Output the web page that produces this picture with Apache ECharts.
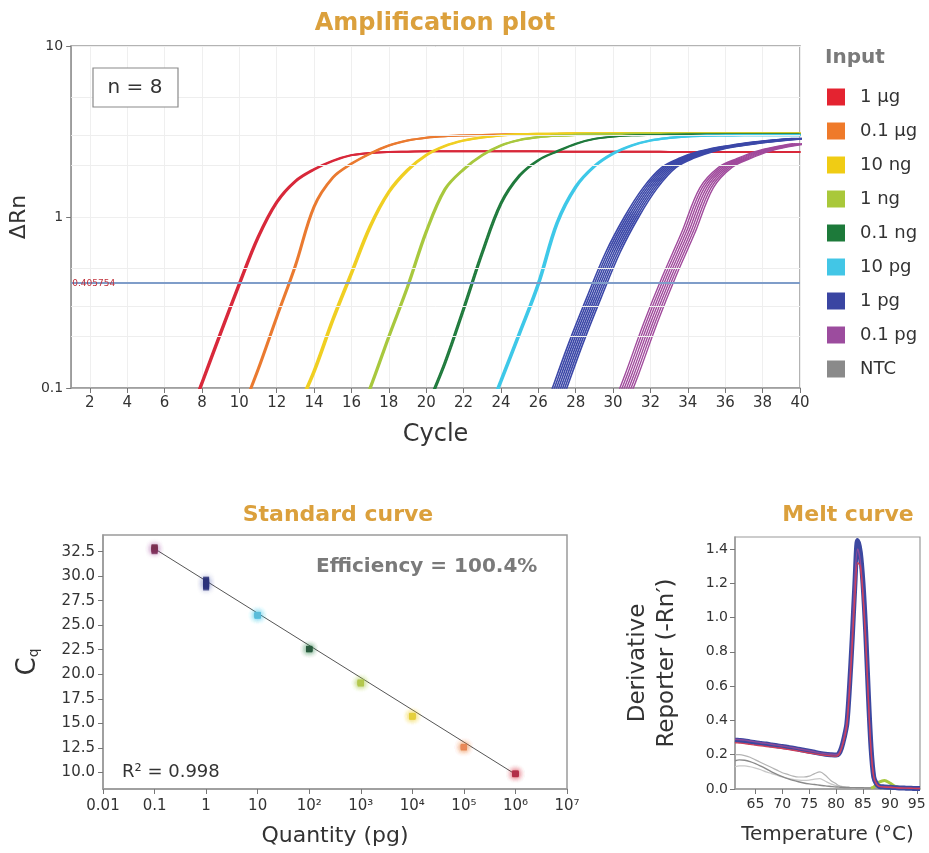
<!DOCTYPE html>
<html><head><meta charset="utf-8">
<script src="https://cdn.jsdelivr.net/npm/echarts@6/dist/echarts.min.js"></script>
<style>html,body{margin:0;padding:0;background:#fff}#c{width:929px;height:853px}</style>
</head><body><div id="c"></div>
<script>
// ================= DATA =================
// Amplification plot: cycle numbers and ΔRn per input group (null = below plotted range)
const cycles = [1,2,3,4,5,6,7,8,9,10,11,12,13,14,15,16,17,18,19,20,21,22,23,24,25,26,27,28,29,30,31,32,33,34,35,36,37,38,39,40];
const amp1ug   = [null,null,null,null,null,0.028,0.055,0.107,0.21,0.406,0.76,1.22,1.62,1.9,2.13,2.3,2.37,2.4,2.41,2.42,2.42,2.42,2.42,2.42,2.42,2.42,2.41,2.41,2.41,2.41,2.41,2.41,2.4,2.4,2.4,2.4,2.4,2.4,2.4,2.4];
const amp01ug  = [null,null,null,null,null,null,null,null,0.034,0.067,0.128,0.26,0.52,1.15,1.7,2.05,2.35,2.62,2.8,2.91,2.97,3.0,3.02,3.04,3.05,3.06,3.06,3.07,3.07,3.07,3.08,3.08,3.08,3.08,3.08,3.08,3.08,3.08,3.08,3.08];
const amp10ng  = [null,null,null,null,null,null,null,null,null,null,null,0.036,0.07,0.125,0.25,0.47,0.88,1.4,1.88,2.3,2.6,2.8,2.92,3.0,3.04,3.06,3.07,3.08,3.08,3.09,3.09,3.09,3.09,3.09,3.09,3.09,3.09,3.09,3.09,3.09];
const amp1ng   = [null,null,null,null,null,null,null,null,null,null,null,null,null,null,0.028,0.055,0.1,0.2,0.39,0.82,1.45,1.9,2.3,2.62,2.82,2.93,2.99,3.02,3.04,3.05,3.06,3.06,3.06,3.06,3.06,3.06,3.06,3.06,3.06,3.06];
const amp01ng  = [null,null,null,null,null,null,null,null,null,null,null,null,null,null,null,null,null,null,0.038,0.075,0.14,0.29,0.62,1.2,1.75,2.15,2.42,2.68,2.86,2.95,3.0,3.02,3.03,3.04,3.04,3.04,3.04,3.04,3.04,3.04];
const amp10pg  = [null,null,null,null,null,null,null,null,null,null,null,null,null,null,null,null,null,null,null,null,null,0.03,0.058,0.11,0.21,0.406,0.92,1.5,1.98,2.35,2.62,2.8,2.9,2.96,2.99,3.0,3.01,3.01,3.01,3.01];
const amp1pg   = [null,null,null,null,null,null,null,null,null,null,null,null,null,null,null,null,null,null,null,null,null,null,null,null,0.024,0.045,0.09,0.18,0.34,0.62,1.0,1.48,1.95,2.22,2.42,2.56,2.66,2.75,2.82,2.88];
const amp01pg  = [null,null,null,null,null,null,null,null,null,null,null,null,null,null,null,null,null,null,null,null,null,null,null,null,null,null,null,0.016,0.032,0.063,0.12,0.24,0.45,0.8,1.48,1.95,2.2,2.42,2.57,2.68];
const rep1ug  = [-0.04, 0.04];
const rep01ug = [-0.03, 0.03];
const rep10ng = [-0.04, 0.04];
const rep1ng  = [-0.03, 0.03];
const rep01ng = [-0.04, 0.04];
const rep10pg = [-0.04, 0.04];
const rep1pg  = [-0.4, -0.29, -0.18, -0.07, 0.04, 0.15, 0.26, 0.37];
const rep01pg = [-0.36, -0.24, -0.12, 0, 0.12, 0.24, 0.36];
const thresholdValue = 0.405754;
const thresholdText = '0.405754';
const ampTickCycles = [2,4,6,8,10,12,14,16,18,20,22,24,26,28,30,32,34,36,38,40];
const ampYLabels = ['0.1', '1', '10'];
const ampMinorGrid = [0.2, 0.3, 0.5, 2, 3, 5];
const groupNames = ['1 µg','0.1 µg','10 ng','1 ng','0.1 ng','10 pg','1 pg','0.1 pg','NTC'];

// Standard curve: quantity (pg) and Cq replicates
const stdQuantity = [1e6, 1e5, 1e4, 1e3, 1e2, 10, 1, 0.1];
const cq1ug  = [9.75, 9.8, 9.85, 9.9, 9.9, 9.95, 9.8, 9.85];
const cq01ug = [12.5, 12.55, 12.6, 12.55, 12.6, 12.65, 12.5, 12.6];
const cq10ng = [15.6, 15.7, 15.75, 15.8, 15.7, 15.65, 15.75, 15.8];
const cq1ng  = [19.0, 19.1, 19.15, 19.2, 19.1, 19.15, 19.05, 19.2];
const cq01ng = [22.5, 22.55, 22.6, 22.6, 22.65, 22.55, 22.5, 22.6];
const cq10pg = [25.9, 26.0, 26.05, 26.1, 26.0, 25.95, 26.1, 26.05];
const cq1pg  = [28.8, 28.95, 29.1, 29.2, 29.3, 29.45, 29.6, 29.7];
const cq01pg = [32.5, 32.6, 32.7, 32.75, 32.8, 32.9, 32.95, 33.0];
const fitQuantity = [0.1, 1e6];
const fitCq = [32.8, 9.8];
const stdXLabels = ['0.01','0.1','1','10','10²','10³','10⁴','10⁵','10⁶','10⁷'];
const stdYTicks = [10, 12.5, 15, 17.5, 20, 22.5, 25, 27.5, 30, 32.5];

// Melt curve: temperature (°C) and derivative reporter
const meltTemp = [61.2,62,63,64,65,66,67,68,69,70,71,72,73,74,75,76,77,78,79,80,80.5,81,81.5,82,82.5,83,83.5,84,84.5,85,85.5,86,86.5,87,87.5,88,89,90,91,92,93,94,95,95.6];
const meltMain = [0.285,0.283,0.28,0.275,0.27,0.266,0.262,0.257,0.252,0.248,0.243,0.238,0.232,0.226,0.22,0.214,0.208,0.203,0.2,0.198,0.205,0.24,0.3,0.38,0.6,0.88,1.2,1.45,1.38,1.2,0.92,0.55,0.24,0.07,0.03,0.015,0.012,0.01,0.008,0.006,0.005,0.004,0.003,0.003];
const meltRed  = [0.27,0.268,0.265,0.26,0.256,0.252,0.248,0.244,0.24,0.236,0.231,0.226,0.221,0.215,0.21,0.205,0.2,0.196,0.193,0.192,0.2,0.235,0.29,0.37,0.57,0.84,1.12,1.32,1.3,1.12,0.86,0.52,0.22,0.07,0.03,0.015,0.012,0.01,0.008,0.006,0.005,0.004,0.003,0.003];
const meltPurple = [0.29,0.288,0.285,0.28,0.275,0.27,0.266,0.261,0.256,0.251,0.246,0.241,0.235,0.229,0.223,0.217,0.211,0.206,0.203,0.201,0.207,0.245,0.31,0.4,0.63,0.92,1.24,1.4,1.33,1.15,0.89,0.53,0.23,0.07,0.03,0.015,0.012,0.01,0.008,0.006,0.005,0.004,0.003,0.003];
const meltGreen = [null,null,null,null,null,null,null,null,null,null,null,null,null,null,null,null,null,null,null,null,null,null,null,null,null,null,null,null,null,null,null,null,0.006,0.012,0.025,0.04,0.05,0.035,0.015,0.008,0.005,0.004,0.003,0.003];
const meltNTC1 = [0.165,0.17,0.168,0.16,0.148,0.133,0.117,0.1,0.085,0.072,0.06,0.05,0.042,0.035,0.03,0.026,0.022,0.018,0.015,0.012,0.011,0.01,0.009,0.009,0.008,0.008,0.008,0.007,0.007,0.007,0.006,0.006,0.006,0.006,0.005,0.005,0.005,0.005,0.004,0.004,0.004,0.003,0.003,0.003];
const meltNTC2 = [0.2,0.2,0.195,0.185,0.17,0.155,0.14,0.125,0.11,0.095,0.085,0.075,0.07,0.07,0.075,0.09,0.1,0.08,0.05,0.03,0.02,0.015,0.012,0.01,0.009,0.008,0.008,0.007,0.007,0.007,0.006,0.006,0.006,0.006,0.005,0.005,0.005,0.005,0.004,0.004,0.004,0.003,0.003,0.003];
const meltNTC3 = [0.13,0.135,0.135,0.13,0.122,0.112,0.1,0.09,0.08,0.07,0.062,0.056,0.052,0.05,0.052,0.058,0.06,0.045,0.03,0.02,0.016,0.013,0.011,0.01,0.009,0.008,0.008,0.007,0.007,0.007,0.006,0.006,0.006,0.006,0.005,0.005,0.005,0.005,0.004,0.004,0.004,0.003,0.003,0.003];
const meltXTicks = [65,70,75,80,85,90,95];
const meltYTicks = [0,0.2,0.4,0.6,0.8,1.0,1.2,1.4];

// ================= STYLE =================
const F = 'DejaVu Sans';
const GOLD = '#dba03c';
const AX = '#9a9a9a';
const TXT = '#333';
const legendColors = ['#e42330','#ef7a2a','#f0cc14','#a9c83a','#1d7a3a','#42c6e6','#3a45a2','#9c4c9e','#8a8a8a'];
const lineColors   = ['#d8283a','#ea7a30','#f0cf22','#a8c83e','#1f7a3c','#3ec8e8','#3c48a8','#a04a9c'];
const haloColors   = ['rgba(216,40,58,0.35)','rgba(234,122,48,0.35)','rgba(240,207,34,0.4)','rgba(168,200,62,0.4)','rgba(31,122,60,0.3)','rgba(62,200,232,0.4)','rgba(60,72,168,0.3)','rgba(160,74,156,0.3)'];
const pointColors  = ['#b0304a','#e88a5a','#e4d040','#b4c84e','#2a5a3e','#5cbcd8','#2c3278','#7a3050'];

const ampData = [amp1ug, amp01ug, amp10ng, amp1ng, amp01ng, amp10pg, amp1pg, amp01pg];
const ampReps = [rep1ug, rep01ug, rep10ng, rep1ng, rep01ng, rep10pg, rep1pg, rep01pg];
const ampWidths = [2, 2, 2.2, 2.2, 1.8, 2.2, 1.6, 1.4];
const cqData = [cq1ug, cq01ug, cq10ng, cq1ng, cq01ng, cq10pg, cq1pg, cq01pg];

const series = [];
// minor grid + threshold (amplification)
series.push({
  type:'line', xAxisIndex:0, yAxisIndex:0, data:[], silent:true, z:1,
  markLine:{silent:true, symbol:['none','none'], animation:false,
    data: ampMinorGrid.map(v => ({yAxis:v})),
    lineStyle:{color:'#eeeeee', width:1, type:'solid'}, label:{show:false}}
});
ampData.forEach((d, gi) => {
  ampReps[gi].forEach(s => {
    const pts = [];
    cycles.forEach((c, i) => { if (d[i] != null) pts.push([c + s, d[i]]); });
    series.push({
      type:'line', name: groupNames[gi], xAxisIndex:0, yAxisIndex:0, data: pts,
      showSymbol:false, smooth:0.35, clip:true, silent:true,
      lineStyle:{color: lineColors[gi], width: ampWidths[gi]}, itemStyle:{color: lineColors[gi]},
      emphasis:{disabled:true}, z: 3
    });
  });
});
series.push({
  type:'line', xAxisIndex:0, yAxisIndex:0, data:[], silent:true, z:5,
  markLine:{silent:true, symbol:['none','none'], animation:false,
    data:[{yAxis: thresholdValue}],
    lineStyle:{color:'#7f9dc9', width:2, type:'solid'},
    label:{show:true, position:'insideStartTop', distance:[1,-5], formatter: thresholdText,
      color:'#c0303a', fontSize:9, fontFamily:F}}
});
// standard curve
series.push({
  type:'line', xAxisIndex:1, yAxisIndex:1, silent:true, showSymbol:false, z:2,
  data: fitQuantity.map((q, i) => [q, fitCq[i]]),
  lineStyle:{color:'#555', width:1}
});
cqData.forEach((d, gi) => {
  series.push({
    type:'scatter', name: groupNames[gi], xAxisIndex:1, yAxisIndex:1, silent:true, z:4,
    data: d.map(v => [stdQuantity[gi], v]),
    symbol:'rect', symbolSize:[6,5],
    itemStyle:{color: pointColors[gi], shadowBlur:6, shadowColor: haloColors[gi]}
  });
});
// melt curve
function meltSeries(name, vals, color, width, z) {
  const pts = [];
  meltTemp.forEach((t, i) => { if (vals[i] != null) pts.push([t, vals[i]]); });
  return {type:'line', name, xAxisIndex:2, yAxisIndex:2, data:pts, showSymbol:false, smooth:0.3,
    silent:true, clip:true, z, lineStyle:{color, width}, itemStyle:{color}};
}
series.push(meltSeries('NTC', meltNTC3, '#c8c8c8', 1.2, 2));
series.push(meltSeries('NTC', meltNTC2, '#b4b4b4', 1.2, 2));
series.push(meltSeries('NTC', meltNTC1, '#8a8a8a', 1.4, 2));
series.push(meltSeries('1 ng', meltGreen, '#a8c83e', 3, 2));
series.push(meltSeries('1 pg', meltMain, '#3c48a0', 5, 3));
series.push(meltSeries('0.1 pg', meltPurple, '#8a4a9a', 1.4, 4));
series.push(meltSeries('1 µg', meltRed, '#d0405a', 1.4, 4));

const axisLine = {show:true, lineStyle:{color:AX, width:1.5}};
const axisTick = (vals) => ({show:true, length:5, customValues: vals, lineStyle:{color:'#777'}});

const option = {
  animation:false,
  backgroundColor:'#fff',
  textStyle:{fontFamily:F},
  title:[
    {text:'Amplification plot', left:430, top:7, textAlign:'center', textStyle:{fontFamily:F, fontSize:24, fontWeight:'bold', color:GOLD}},
    {text:'Standard curve', left:333, top:499, textAlign:'center', textStyle:{fontFamily:F, fontSize:22, fontWeight:'bold', color:GOLD}},
    {text:'Melt curve', left:843, top:499, textAlign:'center', textStyle:{fontFamily:F, fontSize:22, fontWeight:'bold', color:GOLD}}
  ],
  legend:{
    orient:'vertical', left:822, top:83, itemWidth:18, itemHeight:17, itemGap:16, icon:'rect',
    selectedMode:false,
    data: groupNames.map((n, i) => ({name:n, icon:'rect', itemStyle:{color: legendColors[i], borderWidth:0}})),
    textStyle:{fontFamily:F, fontSize:18, color:TXT, padding:[0,0,0,10]}
  },
  grid:[
    {left:62, top:46, width:738, height:342, show:true, borderColor:AX, borderWidth:1.5},
    {left:103, top:535, width:464, height:254, show:true, borderColor:AX, borderWidth:1.5},
    {left:735, top:537, width:185, height:252, show:true, borderColor:AX, borderWidth:1.2}
  ],
  xAxis:[
    {type:'value', gridIndex:0, min:1, max:40, axisLine, axisTick: axisTick(ampTickCycles),
      axisLabel:{customValues: ampTickCycles, fontFamily:F, fontSize:15, color:TXT, margin:8},
      splitLine:{show:true, lineStyle:{color:'#efefef'}},
      name:'Cycle', nameLocation:'middle', nameGap:35, nameTextStyle:{fontFamily:F, fontSize:24, color:TXT}},
    {type:'log', gridIndex:1, logBase:10, min:0.01, max:1e7, interval:1, axisLine, axisTick:{show:true, length:5, lineStyle:{color:'#777'}},
      axisLabel:{fontFamily:F, fontSize:15, color:TXT, margin:10,
        formatter: v => stdXLabels[Math.round(Math.log10(v)) + 2]},
      splitLine:{show:false}, minorTick:{show:false},
      name:'Quantity (pg)', nameLocation:'middle', nameGap:36, nameTextStyle:{fontFamily:F, fontSize:22, color:TXT}},
    {type:'value', gridIndex:2, min:61.2, max:95.6, axisLine, axisTick: axisTick(meltXTicks),
      axisLabel:{customValues: meltXTicks, fontFamily:F, fontSize:14, color:TXT, margin:8},
      splitLine:{show:false},
      name:'Temperature (°C)', nameLocation:'middle', nameGap:36, nameTextStyle:{fontFamily:F, fontSize:20, color:TXT}}
  ],
  yAxis:[
    {type:'log', gridIndex:0, logBase:10, min:0.1, max:10, axisLine, axisTick:{show:true, length:5, lineStyle:{color:'#777'}},
      axisLabel:{fontFamily:F, fontSize:14, color:TXT, margin:8,
        formatter: v => ampYLabels[Math.round(Math.log10(v)) + 1]},
      splitLine:{show:true, lineStyle:{color:'#efefef'}},
      name:'ΔRn', nameLocation:'middle', nameGap:32, nameRotate:90, nameTextStyle:{fontFamily:F, fontSize:22, color:TXT}},
    {type:'value', gridIndex:1, min:8.3, max:34.2, axisLine, axisTick: axisTick(stdYTicks),
      axisLabel:{customValues: stdYTicks, fontFamily:F, fontSize:15, color:TXT, margin:8, formatter: v => v.toFixed(1)},
      splitLine:{show:false},
      name:'{c|C}{q|q}', nameLocation:'middle', nameGap:62, nameRotate:90,
      nameTextStyle:{fontFamily:F, color:TXT, rich:{c:{fontFamily:F, fontSize:26, color:TXT}, q:{fontFamily:F, fontSize:14, color:TXT, padding:[12,0,0,0]}}}},
    {type:'value', gridIndex:2, min:0, max:1.47, axisLine, axisTick: axisTick(meltYTicks),
      axisLabel:{customValues: meltYTicks, fontFamily:F, fontSize:14, color:TXT, margin:7, formatter: v => v.toFixed(1)},
      splitLine:{show:false},
      name:'Derivative\nReporter (-Rn′)', nameLocation:'middle', nameGap:53, nameRotate:90,
      nameTextStyle:{fontFamily:F, fontSize:23, color:TXT, lineHeight:29}}
  ],
  graphic:[
    {type:'rect', shape:{x:93, y:68, width:85, height:39}, style:{fill:'#fff', stroke:'#8a8a8a', lineWidth:1.2}, z:10},
    {type:'text', x:135, y:88, style:{text:'n = 8', fontFamily:F, fontSize:20, fill:TXT, align:'center', verticalAlign:'middle'}, z:11},
    {type:'text', x:825, y:48, style:{text:'Input', fontFamily:F, fontSize:20, fontWeight:'bold', fill:'#7a7a7a'}},
    {type:'text', x:316, y:557, style:{text:'Efficiency = 100.4%', fontFamily:F, fontSize:20, fontWeight:'bold', fill:'#7a7a7a'}},
    {type:'text', x:122, y:763, style:{text:'R² = 0.998', fontFamily:F, fontSize:18, fill:TXT}}
  ],
  series
};
const chart = echarts.init(document.getElementById('c'), null, {renderer:'canvas'});
chart.setOption(option);
</script>
</body></html>
